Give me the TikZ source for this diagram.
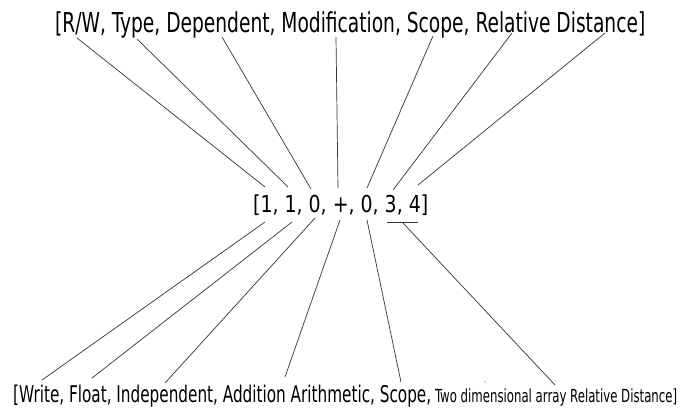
\documentclass[tikz,border=0pt]{standalone}
\usepackage{fontspec}
\usepackage{graphicx}
\newfontfamily\condfont{DejaVu Sans Condensed}
\begin{document}
\begin{tikzpicture}[x=1pt,y=-1pt,
  lbl/.style={inner sep=0pt, anchor=base west},
  conn/.style={line width=0.7pt, draw=black!80}]
\useasboundingbox (0,0) rectangle (694,408);
% texts
\node[lbl] (top) at (55,32) {\resizebox{590pt}{\height}{\fontsize{27.4}{30}\selectfont\condfont [R/W, Type, Dependent, Modification, Scope, Relative Distance]}};
\node[lbl] (mid) at (253,212) {\resizebox{175pt}{\height}{\fontsize{23.3}{26}\selectfont\condfont [1, 1, 0, +, 0, 3, 4]}};
\node[lbl] (bot) at (13,402) {\resizebox{418pt}{\height}{\fontsize{23}{26}\selectfont\condfont [Write, Float, Independent, Addition Arithmetic, Scope,}};
\node[lbl] (botsmall) at (435,402) {\resizebox{242pt}{\height}{\fontsize{18}{20}\selectfont\condfont Two dimensional array Relative Distance]}};
% top anchors
\coordinate (t1) at (77,38);
\coordinate (t2) at (137,39);
\coordinate (t3) at (222,37);
\coordinate (t4) at (336,37);
\coordinate (t5) at (433,36);
\coordinate (t6) at (512,33);
\coordinate (t7) at (605,33);
% middle upper anchors
\coordinate (m1) at (265,187);
\coordinate (m2) at (288,187);
\coordinate (m3) at (311,189);
\coordinate (m4) at (338,188);
\coordinate (m5) at (367,188);
\coordinate (m6) at (393,190);
\coordinate (m7) at (418,185);
% middle lower anchors
\coordinate (n1) at (265,222);
\coordinate (n2) at (292,222);
\coordinate (n3) at (315,218);
\coordinate (n4) at (340,220);
\coordinate (n5) at (367,220);
\coordinate (n6) at (403,223);
% bottom anchors
\coordinate (e1) at (42,380);
\coordinate (e2) at (92,378);
\coordinate (e3) at (165,383);
\coordinate (e4) at (285,377);
\coordinate (e5) at (401,382);
\coordinate (e6) at (555,385);
% underline
\coordinate (u1) at (387,222);
\coordinate (u2) at (418,222);
\foreach \i in {1,...,7} {\draw[conn] (t\i) -- (m\i);}
\foreach \i in {1,...,6} {\draw[conn] (n\i) -- (e\i);}
\draw[conn] (u1) -- (u2);
\fill[black!70] (485,382) circle (0.7);
\end{tikzpicture}
\end{document}
